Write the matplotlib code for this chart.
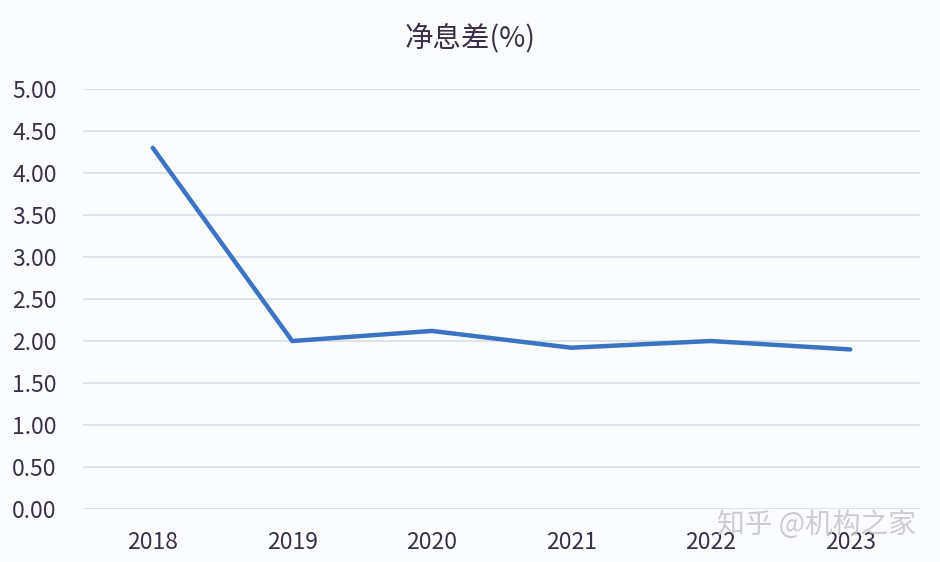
import matplotlib.pyplot as plt

plt.rcParams['font.family'] = ['Noto Sans CJK SC', 'DejaVu Sans']

years = ["2018", "2019", "2020", "2021", "2022", "2023"]
nim = [4.30, 2.00, 2.12, 1.92, 2.00, 1.90]
yticks = [0.0, 0.5, 1.0, 1.5, 2.0, 2.5, 3.0, 3.5, 4.0, 4.5, 5.0]

text_color = "#3b2f48"

fig = plt.figure(figsize=(9.4, 5.62), dpi=100, facecolor="#fbfcfe")
ax = fig.add_axes([0.0883, 0.0943, 0.8904, 0.7473])
ax.set_facecolor("#fbfcfe")

x = list(range(len(years)))
ax.plot(x, nim, color="#3a74c2", linewidth=3.2, solid_capstyle="round", zorder=3)

ax.set_xlim(-0.5, len(years) - 0.5)
ax.set_ylim(0, 5)
ax.set_yticks(yticks)
ax.set_yticklabels([f"{v:.2f}" for v in yticks])
ax.set_xticks(x)
ax.set_xticklabels(years)
ax.grid(axis="y", color="#d9dde6", linewidth=1.2)
ax.set_axisbelow(True)
for s in ax.spines.values():
    s.set_visible(False)
ax.tick_params(length=0, labelsize=16.5, colors=text_color)
ax.tick_params(axis="y", pad=19)
ax.tick_params(axis="x", pad=16)
for lbl in ax.get_xticklabels() + ax.get_yticklabels():
    lbl.set_fontweight("light")

fig.text(0.5, 0.932, "净息差(%)", ha="center", va="center", fontsize=20.5,
         color=text_color, fontweight="light")
fig.text(0.763, 0.067, "知乎 @机构之家", ha="left", va="center", fontsize=20,
         color="#c8c8cc", alpha=0.9, fontweight="light")

plt.savefig("out.png", dpi=100, facecolor=fig.get_facecolor())
